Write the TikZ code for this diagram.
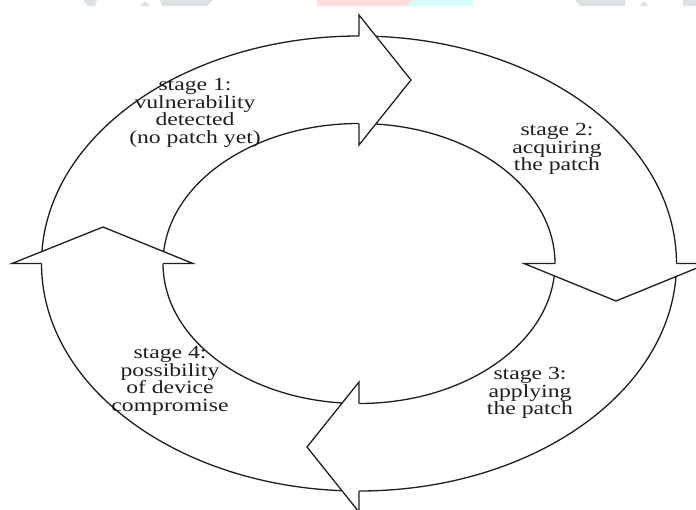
\documentclass[tikz,border=0pt]{standalone}
\usepackage{fontspec}
\setmainfont{Liberation Serif}[FakeStretch=1.28]
\definecolor{wmgrey}{RGB}{221,225,229}
\definecolor{wmpink}{RGB}{255,220,222}
\definecolor{wmcyan}{RGB}{214,252,252}
\definecolor{ink}{RGB}{30,30,30}
\begin{document}
\begin{tikzpicture}[x=1pt,y=-1pt,
  ring/.style={draw=ink, line width=1.3pt},
  headfill/.style={fill=white, draw=none},
  headline/.style={draw=ink, line width=1.3pt, line join=miter},
  lbl/.style={align=center, font=\fontsize{18.5}{17.5}\selectfont, text=ink, inner sep=0pt}]
\useasboundingbox (0,0) rectangle (696,509);
\clip (0,0) rectangle (696,509);
% faint watermark fragments at the top
\fill[wmgrey] (83,0) -- (97,0) -- (95,6) -- (88,6) -- cycle;
\fill[wmgrey] (140,6) -- (145,1) -- (150,6) -- cycle;
\fill[wmgrey] (160,0) -- (213,0) -- (207,6) -- (162,6) -- cycle;
\fill[wmpink] (317,0) -- (412,0) -- (406,6) -- (317,6) -- cycle;
\fill[wmcyan] (412,0) -- (473,0) -- (473,6) -- (406,6) -- cycle;
\fill[wmgrey] (575,0) -- (625,0) -- (625,6) -- (580,6) -- cycle;
\fill[wmgrey] (640,6) -- (644,1) -- (648,6) -- cycle;
\fill[wmgrey] (683,0) -- (696,0) -- (696,6) -- (683,6) -- cycle;
% ring
\coordinate (c) at (359,263.5);
\draw[ring] (c) ellipse [x radius=317.5pt, y radius=227.5pt];
\draw[ring] (c) ellipse [x radius=196pt, y radius=140pt];
% top arrowhead
\fill[headfill] (359,36) -- (359,15) -- (411,80) -- (359,145) -- (359,123.5) -- cycle;
\draw[headline] (359,36) -- (359,15) -- (411,80) -- (359,145) -- (359,123.5);
% right arrowhead
\fill[headfill] (555,263.5) -- (524,263.5) -- (616,301) -- (708,263.5) -- (676.5,263.5) -- cycle;
\draw[headline] (555,263.5) -- (524,263.5) -- (616,301) -- (708,263.5) -- (676.5,263.5);
% bottom arrowhead
\fill[headfill] (359,403.5) -- (359,382) -- (307,447) -- (359,512) -- (359,491) -- cycle;
\draw[headline] (359,403.5) -- (359,382) -- (307,447) -- (359,512) -- (359,491);
% left arrowhead
\fill[headfill] (41.5,263.5) -- (12,263.5) -- (103,227) -- (193,263.5) -- (163,263.5) -- cycle;
\draw[headline] (41.5,263.5) -- (12,263.5) -- (103,227) -- (193,263.5) -- (163,263.5);
% labels
\node[lbl] (s1) at (195,113) {stage 1:\\vulnerability\\detected\\(no patch yet)};
\node[lbl] (s2) at (557,149) {stage 2:\\acquiring\\the patch};
\node[lbl] (s3) at (530,393) {stage 3:\\applying\\the patch};
\node[lbl] (s4) at (170,381) {stage 4:\\possibility\\of device\\compromise};
\end{tikzpicture}
\end{document}
